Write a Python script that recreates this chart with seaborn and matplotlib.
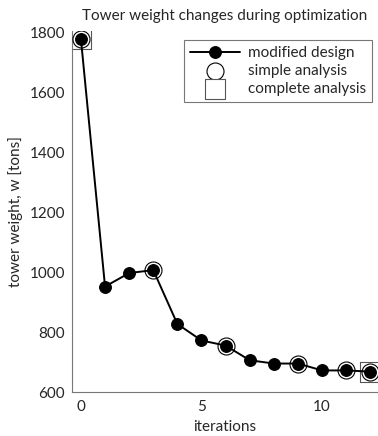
import numpy as np
import pandas as pd
import matplotlib
matplotlib.use("Agg")
import matplotlib.pyplot as plt
import seaborn as sns

# data
iterations = [0, 1, 2, 3, 4, 5, 6, 7, 8, 9, 10, 11, 12]
weight = [1778, 952, 997, 1007, 827, 772, 755, 706, 695, 695, 672, 672, 668]
simple_iters = [0, 3, 6, 9, 11, 12]
complete_iters = [0, 12]

sns.set_style("white")
plt.rcParams['font.family'] = ['Lato', 'DejaVu Sans']

df = pd.DataFrame({"iterations": iterations, "weight": weight})
simple = df[df.iterations.isin(simple_iters)]
complete = df[df.iterations.isin(complete_iters)]

fig, ax = plt.subplots(figsize=(3.78, 4.36), dpi=100)
fig.subplots_adjust(left=72 / 378, right=1.0, top=1 - 31 / 436, bottom=1 - 392 / 436)

# outlines first so the filled markers sit on top
sns.scatterplot(data=complete, x="iterations", y="weight", marker="s", s=210,
                facecolor="white", edgecolor="#555555", linewidth=0.8, ax=ax,
                label="complete analysis", zorder=2)
sns.scatterplot(data=simple, x="iterations", y="weight", marker="o", s=150,
                facecolor="white", edgecolor="black", linewidth=0.8, ax=ax,
                label="simple analysis", zorder=3)
sns.lineplot(data=df, x="iterations", y="weight", color="black", linewidth=1.4,
             marker="o", markersize=8.5, markerfacecolor="black",
             markeredgecolor="black", ax=ax, label="modified design", zorder=4)

ax.set_xlim(-0.37, 12.32)
ax.set_ylim(600, 1805)
ax.set_xticks([0, 5, 10])
ax.set_yticks([600, 800, 1000, 1200, 1400, 1600, 1800])
ax.set_xlabel("iterations", fontsize=11, labelpad=4)
ax.set_ylabel("tower weight, w [tons]", fontsize=11, labelpad=5)
ax.set_title("Tower weight changes during optimization", fontsize=11, pad=8)
ax.tick_params(labelsize=11)
ax.tick_params(axis="x", direction="in", length=3, color="#777777", pad=6)
ax.tick_params(axis="y", direction="out", length=3, color="#777777", pad=2)

sns.despine(ax=ax)
for s in ["left", "bottom"]:
    ax.spines[s].set_color("#777777")
    ax.spines[s].set_linewidth(0.8)

h, l = ax.get_legend_handles_labels()
order = [l.index("modified design"), l.index("simple analysis"), l.index("complete analysis")]
leg = ax.legend([h[i] for i in order], [l[i] for i in order], loc="upper right",
                bbox_to_anchor=(1 - 6 / 306, 1 - 9 / 361), fontsize=11, frameon=True,
                fancybox=False, edgecolor="#555555", handlelength=3.3, borderpad=0.4,
                labelspacing=0.25, handletextpad=0.5, borderaxespad=0)
leg.get_frame().set_linewidth(0.8)

fig.savefig("out.png", dpi=100)
